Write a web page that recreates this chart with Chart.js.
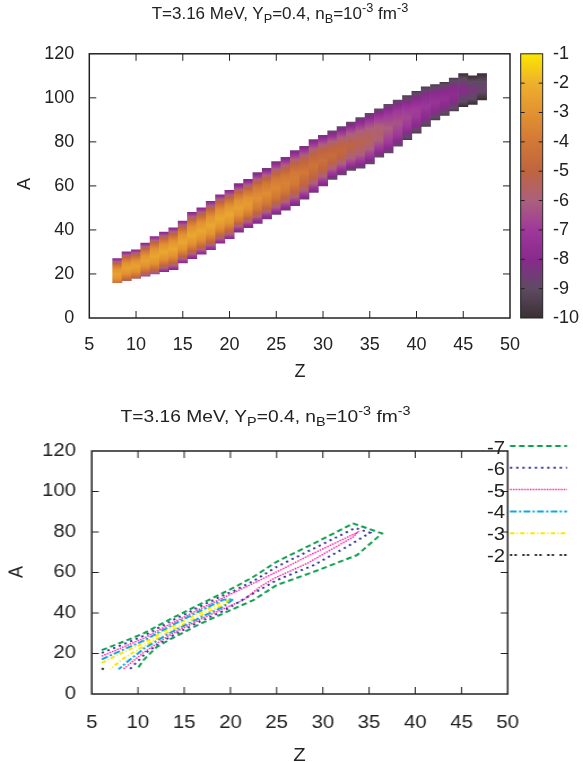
<!DOCTYPE html>
<html>
<head>
<meta charset="utf-8">
<script src="https://cdn.jsdelivr.net/npm/chart.js@4/dist/chart.umd.min.js"></script>
<style>
  html, body { margin: 0; padding: 0; background: #fff; }
  body { width: 583px; height: 762px; position: relative; overflow: hidden;
         font-family: "Liberation Sans", Arial, sans-serif; color: #222; }
  .panel { position: absolute; left: 0; }
  .txt { position: absolute; white-space: nowrap; line-height: 1; font-size: 18px; }
  .title { font-size: 17px; transform: translateX(-50%); }
  .title sub, .title sup { font-size: 0.75em; line-height: 0; }
  .mid { transform: translate(-50%, -50%); }
  .rot { transform: translate(-50%, -50%) rotate(-90deg); }
  .rgt { transform: translate(-100%, -50%); }
</style>
</head>
<body>
<div class="panel" style="top:0;width:583px;height:385px">
  <canvas id="heat" width="583" height="385"></canvas>
  <div class="txt title" style="left:280px;top:5px">T=3.16 MeV, Y<sub>P</sub>=0.4, n<sub>B</sub>=10<sup>-3</sup> fm<sup>-3</sup></div>
  <div class="txt rot" style="left:24px;top:184px">A</div>
  <div class="txt mid" style="left:300px;top:371px">Z</div>
</div>
<div id="bot" class="panel" style="top:385px;width:516px;height:377px;transform:scaleX(1.13);transform-origin:0 0">
  <canvas id="cont" width="516" height="377"></canvas>
  <div class="txt title" style="left:235px;top:23px">T=3.16 MeV, Y<sub>P</sub>=0.4, n<sub>B</sub>=10<sup>-3</sup> fm<sup>-3</sup></div>
  <div class="txt rot" style="left:14px;top:187px">A</div>
  <div class="txt mid" style="left:265px;top:370px">Z</div>
</div>
<script>
// ---- top panel: log10 abundance per (Z, A) column ----
const zCols   = [8,9,10,11,12,13,14,15,16,17,18,19,20,21,22,23,24,25,26,27,28,29,30,31,32,33,34,35,36,37,38,39,40,41,42,43,44,45,46,47];
const aLow    = [16,17,18,19,20,21,22,25,27,29,31,34,36,39,41,43,45,47,49,51,54,57,60,63,65,67,68,70,73,75,78,81,84,87,90,92,94,96,97,99];
const aHigh   = [27,30,31,34,37,39,41,44,48,50,53,56,58,61,63,66,68,71,73,76,78,81,83,85,87,89,91,93,95,97,99,101,103,105,106,107,109,111,110,111];
const aRidge  = [20,22.5,23.5,26,28,30,31.5,34.5,37.5,39.5,42,45,47,50,52,54.5,56.5,59,61,63.5,66,69,71.5,74,76,78,79.5,81.5,84,86,88.5,91,93.5,96,98,99.5,101.5,103.5,103.5,105];
const peakVal = [-2.5,-2.5,-2.5,-2.5,-2.3,-2.3,-2.3,-2.3,-2.3,-2.3,-2.3,-2.3,-2.3,-2.5,-2.7,-3,-3.2,-3.4,-3.6,-3.8,-4,-4.2,-4.4,-4.6,-4.8,-5,-5.2,-5.4,-5.7,-6,-6.3,-6.6,-6.9,-7.1,-7.3,-7.5,-7.7,-8,-8.4,-8.8];
const edgeVal = [-8,-8,-8,-8,-8,-8,-8,-8,-8,-8,-8,-8,-8,-8.5,-8.5,-8.5,-8.5,-8.5,-8.5,-8.5,-8.5,-8.5,-8.5,-9,-9,-9,-9,-9,-9,-9,-9,-9.5,-9.5,-9.5,-9.5,-9.5,-9.5,-10,-10,-10];
// half-width (in A) of the region where log10 Y >= level
const hw9 = [7,7.5,7.5,8,9,9,9.5,9.5,10.5,10.5,11,11,11,11,11,11.5,11.5,12,12,12.5,12,12,11.5,11,11,11,11.5,11.5,11,11,10.5,9.1,8.5,8,7,6.5,6.4,5.3,4,2.4];
const hw8 = [7,7.5,7.5,8,9,9,9.5,9.5,10.5,10.5,11,11,11,10.5,10.5,11,10.9,11.4,11.4,11.8,11.3,11.3,10.8,9.7,9.6,9.5,9.9,9.8,9.2,9,8.3,7,6.2,5.5,4.5,3.8,3.1,null,null,null];
const hw7 = [6.3,6.8,6.8,7.2,8.2,8.2,8.6,8.6,9.5,9.5,10,10,10,9.5,9.5,9.8,9.7,10.1,10,10.3,9.8,9.7,9.2,8.1,8,7.8,7.9,7.7,6.9,6.3,5.3,3.7,1.9,null,null,null,null,null,null,null];
const hw6 = [5.6,6,6,6.4,7.3,7.3,7.7,7.7,8.5,8.5,8.9,8.9,8.9,8.4,8.3,8.5,8.4,8.6,8.4,8.6,8,7.8,7.2,6.2,5.9,5.5,5.3,4.7,3.3,null,null,null,null,null,null,null,null,null,null,null];
const hw5 = [4.7,5.1,5.1,5.4,6.2,6.2,6.5,6.5,7.2,7.2,7.6,7.6,7.6,7.1,6.9,6.9,6.7,6.7,6.4,6.3,5.7,5.2,4.4,3.3,2.4,null,null,null,null,null,null,null,null,null,null,null,null,null,null,null];
const hw4 = [3.7,3.9,3.9,4.2,4.9,4.9,5.2,5.2,5.7,5.7,6,6,6,5.5,5.2,4.9,4.5,4.1,3.4,2.6,null,null,null,null,null,null,null,null,null,null,null,null,null,null,null,null,null,null,null,null];
const hw3 = [2.1,2.3,2.3,2.4,3.2,3.2,3.3,3.3,3.7,3.7,3.9,3.9,3.9,3.2,2.5,null,null,null,null,null,null,null,null,null,null,null,null,null,null,null,null,null,null,null,null,null,null,null,null,null];
const bandLevels = [-9, -8, -7, -6, -5, -4, -3];
const bandWidths = [hw9, hw8, hw7, hw6, hw5, hw4, hw3];

const zTicks = [5,10,15,20,25,30,35,40,45,50];
const aTicks = [0,20,40,60,80,100,120];
const cbTicks = [-10,-9,-8,-7,-6,-5,-4,-3,-2,-1];
const cbColors = ['#3a3033','#5f4a63','#882a8c','#9f389b','#ac607c','#bf643f','#d27836','#e29232','#eeb02c','#fde600'];

// ---- bottom panel: contour lines (Z, A) ----
const contourLevels = ['-7','-6','-5','-4','-3','-2'];
const c7Z = [6.08,8.4,10.6,13.5,16.7,19.2,20.5,22.5,25,29,33.3,36.4,33.7,29,25,22.5,20,16.7,13.5,12,10.6,9.9];
const c7A = [21.7,25.8,29.9,37,44.3,49.9,52.8,57.9,65.3,74.3,84.2,79.3,68.6,60.3,53.8,46.4,41.4,34.6,27.1,23.1,16.8,12.2];
const c6Z = [6.08,8.4,10.6,13.5,16.7,19.2,20.5,22.5,25,29,33.5,35.1,32.6,29,25,22.5,20,19.2,16.7,13.5,11,9.1];
const c6A = [20.3,24.5,28.7,35.8,43.2,48.7,51.2,55.8,62.8,71.8,82,79.6,72.7,63.6,56.2,49.7,43,40.9,35.8,28.3,20.9,12.2];
const c5Z = [6.08,8.4,10.6,13.5,16.7,19.2,21,23,25,29,33.7,33.3,28.3,24.7,23.2,21.4,19.2,16.7,13.5,10.6,8.4];
const c5A = [18.7,23.2,27.5,34.6,42,47.5,51.4,55.8,60.3,69.5,79.7,77.6,64.5,57.1,52.9,46.4,42,36.8,29.3,20.5,12.2];
const c4Z = [6.08,8.4,10.6,13.5,16.7,19.2,20.3,19.2,16.7,13.5,10.6,9,7.9];
const c4A = [17.1,21.9,26.3,33.55,41,46.55,46.8,42.95,37.7,30.25,22.3,16.5,12.2];
const c3Z = [6.08,8.4,10.6,13.5,16.7,19.2,19.7,19.2,16.7,13.5,10.6,8.4,7];
const c3A = [15.4,20.6,25.1,32.7,40.1,45.6,45.9,43.9,38.6,31.1,23.5,17.5,12.2];
const c2Z = [6.08,6.3];
const c2A = [12.7,12.2];
const contourZ = [c7Z, c6Z, c5Z, c4Z, c3Z, c2Z];
const contourA = [c7A, c6A, c5A, c4A, c3A, c2A];
const contourStyle = [
  { color: '#12a050', dash: [5, 3], width: 2 },
  { color: '#35359a', dash: [2, 3.5], width: 2 },
  { color: '#ff2ea6', dash: [1.5, 1], width: 1.5 },
  { color: '#10a6e2', dash: [6, 2, 2, 2], width: 2 },
  { color: '#ffe400', dash: [4, 2, 1, 2], width: 2 },
  { color: '#222222', dash: [2, 2, 2, 5], width: 2 }
];

Chart.defaults.font.family = "'Liberation Sans', Arial, sans-serif";
Chart.defaults.font.size = 18;
Chart.defaults.color = '#222';

function hexToRgb(h) {
  return [parseInt(h.slice(1, 3), 16), parseInt(h.slice(3, 5), 16), parseInt(h.slice(5, 7), 16)];
}
function palette(v) {
  const lo = cbTicks[0], hi = cbTicks[cbTicks.length - 1];
  const x = Math.min(Math.max(v, lo), hi) - lo;
  const i = Math.min(Math.floor(x), cbColors.length - 2);
  const t = x - i;
  const a = hexToRgb(cbColors[i]), b = hexToRgb(cbColors[i + 1]);
  const c = a.map((u, k) => Math.round(u + (b[k] - u) * t));
  return `rgb(${c[0]},${c[1]},${c[2]})`;
}

// colour profile along A for one Z column: level crossings -> gradient stops
function columnStops(i) {
  const r = aRidge[i];
  const w = Math.max(aHigh[i] - r, r - aLow[i]);
  const stops = [[r - w, edgeVal[i]], [r, peakVal[i]], [r + w, edgeVal[i]]];
  bandLevels.forEach((lvl, k) => {
    const h = bandWidths[k][i];
    if (h == null || lvl <= edgeVal[i] || lvl >= peakVal[i]) return;
    stops.push([r - h, lvl], [r + h, lvl]);
  });
  stops.sort((p, q) => p[0] - q[0]);
  return { lo: r - w, hi: r + w, stops };
}

function columnFill(c) {
  const chart = c.chart;
  if (!chart.chartArea || c.dataIndex == null) return palette(-6);
  const y = chart.scales.y;
  const s = columnStops(c.dataIndex);
  const g = chart.ctx.createLinearGradient(0, y.getPixelForValue(s.lo), 0, y.getPixelForValue(s.hi));
  s.stops.forEach(([pos, v]) => g.addColorStop(Math.min(1, Math.max(0, (pos - s.lo) / (s.hi - s.lo))), palette(v)));
  return g;
}

const heatSets = [{
  data: zCols.map((z, i) => ({ x: z, y: [aLow[i], aHigh[i]] })),
  backgroundColor: columnFill,
  grouped: false, barPercentage: 1, categoryPercentage: 1, borderWidth: 0
}];

function drawFrame(chart, tickLenX, tickLenY) {
  const { ctx, chartArea: a, scales } = chart;
  ctx.save();
  ctx.strokeStyle = '#222';
  ctx.lineWidth = 1;
  ctx.beginPath();
  zTicks.slice(1, -1).forEach(v => {
    const px = scales.x.getPixelForValue(v);
    ctx.moveTo(px, a.bottom); ctx.lineTo(px, a.bottom - tickLenY);
    ctx.moveTo(px, a.top); ctx.lineTo(px, a.top + tickLenY);
  });
  aTicks.slice(1, -1).forEach(v => {
    const py = scales.y.getPixelForValue(v);
    ctx.moveTo(a.left, py); ctx.lineTo(a.left + tickLenX, py);
    ctx.moveTo(a.right, py); ctx.lineTo(a.right - tickLenX, py);
  });
  ctx.stroke();
  ctx.lineWidth = 1.5;
  ctx.strokeRect(a.left, a.top, a.right - a.left, a.bottom - a.top);
  ctx.restore();
}

const axisBase = (ticks, extra) => Object.assign({
  type: 'linear', min: ticks[0], max: ticks[ticks.length - 1], offset: false,
  grid: { display: false, drawTicks: false }, border: { display: false }
}, extra);

new Chart(document.getElementById('heat'), {
  type: 'bar',
  data: { datasets: heatSets },
  options: {
    responsive: false, animation: false, events: [],
    layout: { padding: { top: 51, left: 0, right: 0, bottom: 0 } },
    plugins: { legend: { display: false }, tooltip: { enabled: false } },
    scales: {
      x: axisBase(zTicks, { ticks: { stepSize: 5, padding: 16, maxRotation: 0 }, afterFit: s => { s.height = 67; } }),
      y: axisBase(aTicks, { ticks: { stepSize: 20, padding: 15 }, afterFit: s => { s.width = 89.3; } }),
      cb: axisBase(cbTicks, { position: 'right', ticks: { stepSize: 1, padding: 43 }, afterFit: s => { s.width = 73; } })
    }
  },
  plugins: [{
    id: 'frameAndBar',
    afterDatasetsDraw(chart) { drawFrame(chart, 7, 7); },
    afterDraw(chart) {
      const { ctx, chartArea: a, scales } = chart;
      const cb = scales.cb;
      const x0 = a.right + 10.7, x1 = a.right + 32.7;
      const yTop = cb.getPixelForValue(cbTicks[cbTicks.length - 1]);
      const yBot = cb.getPixelForValue(cbTicks[0]);
      const g = ctx.createLinearGradient(0, yBot, 0, yTop);
      cbColors.forEach((c, i) => g.addColorStop(i / (cbColors.length - 1), c));
      ctx.save();
      ctx.fillStyle = g;
      ctx.fillRect(x0, yTop, x1 - x0, yBot - yTop);
      ctx.strokeStyle = '#222';
      ctx.lineWidth = 1;
      ctx.beginPath();
      cbTicks.slice(1, -1).forEach(v => {
        const py = cb.getPixelForValue(v);
        ctx.moveTo(x0, py); ctx.lineTo(x0 + 4, py);
        ctx.moveTo(x1, py); ctx.lineTo(x1 - 4, py);
      });
      ctx.stroke();
      ctx.strokeRect(x0, yTop, x1 - x0, yBot - yTop);
      ctx.restore();
    }
  }]
});

// ---- bottom chart ----
const contSets = contourLevels.map((lvl, k) => ({
  label: lvl,
  data: contourZ[k].map((z, i) => ({ x: z, y: contourA[k][i] })),
  showLine: true, pointRadius: 0, tension: 0, fill: false,
  borderColor: contourStyle[k].color, borderDash: contourStyle[k].dash,
  borderWidth: contourStyle[k].width
}));

new Chart(document.getElementById('cont'), {
  type: 'scatter',
  data: { datasets: contSets },
  options: {
    responsive: false, animation: false, events: [],
    layout: { padding: { top: 66, left: 0, right: 66.7, bottom: 0 } },
    plugins: { legend: { display: false }, tooltip: { enabled: false } },
    scales: {
      x: axisBase(zTicks, { ticks: { stepSize: 5, padding: 18, maxRotation: 0 }, afterFit: s => { s.height = 68; } }),
      y: axisBase(aTicks, { ticks: { stepSize: 20, padding: 14 }, afterFit: s => { s.width = 81.2; } })
    }
  },
  plugins: [{
    id: 'frameAndKey',
    afterDatasetsDraw(chart) { drawFrame(chart, 6.2, 7); },
    afterDraw(chart) {
      const { ctx, chartArea: a } = chart;
      ctx.save();
      chart.data.datasets.forEach((ds, k) => {
        const y = a.top - 5 + k * 21.8;
        ctx.strokeStyle = ds.borderColor;
        ctx.lineWidth = ds.borderWidth;
        ctx.setLineDash(ds.borderDash);
        ctx.beginPath();
        ctx.moveTo(a.right + 2, y);
        ctx.lineTo(a.right + 52.5, y);
        ctx.stroke();
      });
      ctx.restore();
    }
  }]
});

// key labels (real text) next to the samples
const bot = document.getElementById('bot');
contourLevels.forEach((lvl, k) => {
  const d = document.createElement('div');
  d.className = 'txt rgt';
  d.style.left = '447px';
  d.style.top = (62.5 + k * 21.6) + 'px';
  d.textContent = lvl;
  bot.appendChild(d);
});
</script>
</body>
</html>
